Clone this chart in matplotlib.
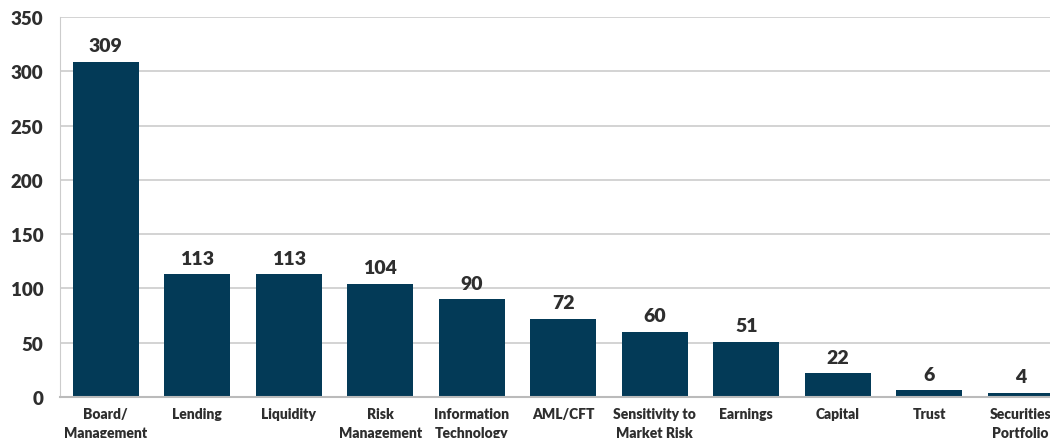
import matplotlib.pyplot as plt

categories = ["Board/\nManagement", "Lending", "Liquidity", "Risk\nManagement",
              "Information\nTechnology", "AML/CFT", "Sensitivity to\nMarket Risk",
              "Earnings", "Capital", "Trust", "Securities\nPortfolio"]
values = [309, 113, 113, 104, 90, 72, 60, 51, 22, 6, 4]
yticks = [0, 50, 100, 150, 200, 250, 300, 350]

bar_color = "#033a57"
text_color = "#2e2e2e"

plt.rcParams['font.family'] = ['Lato', 'DejaVu Sans']

fig = plt.figure(figsize=(10.5, 4.39), dpi=100)
# axes runs past the right edge, as in the reference crop
ax = fig.add_axes([0.0571, 0.0934, 0.9586, 0.8656])

x = range(len(categories))
bars = ax.bar(x, values, width=0.72, color=bar_color, zorder=3)

for xi, v in zip(x, values):
    ax.text(xi, v + 7, str(v), ha='center', va='bottom', fontsize=14,
            fontweight='heavy', color=text_color)

ax.set_xlim(-0.5, len(categories) - 0.5)
ax.set_ylim(0, 350)
ax.set_yticks(yticks)
ax.set_yticklabels([str(t) for t in yticks], fontsize=13.5, fontweight='heavy', color=text_color)
ax.set_xticks(list(x))
ax.set_xticklabels(categories, fontsize=10, fontweight='heavy', color=text_color,
                   linespacing=1.6)
ax.tick_params(axis='both', length=0)
ax.tick_params(axis='y', pad=12)
ax.tick_params(axis='x', pad=7)

ax.yaxis.grid(True, color='#cccccc', linewidth=1.2, zorder=0)
for s in ['top', 'right']:
    ax.spines[s].set_visible(False)
ax.spines['left'].set_color('#cccccc')
ax.spines['bottom'].set_color('#bbbbbb')
ax.spines['bottom'].set_linewidth(1.5)
ax.spines['bottom'].set_zorder(4)

fig.savefig('out.png', dpi=100)
